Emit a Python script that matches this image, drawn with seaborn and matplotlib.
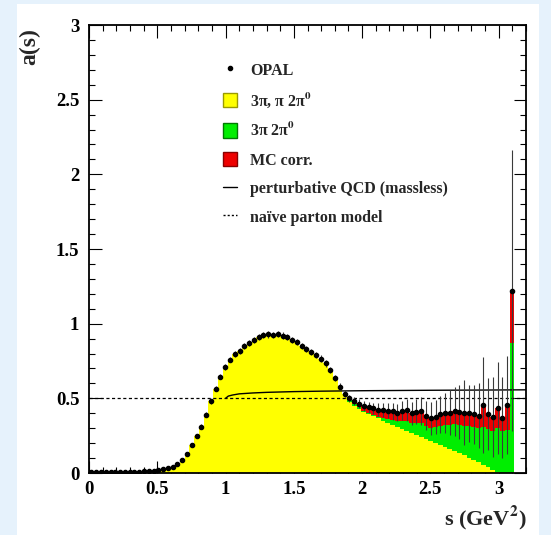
import numpy as np
import pandas as pd
import matplotlib
matplotlib.use("Agg")
import matplotlib.pyplot as plt
import seaborn as sns
from matplotlib.patches import Patch, Rectangle
from matplotlib.lines import Line2D
from matplotlib.ticker import MultipleLocator

# ---- spectral function a(s), OPAL tau data, bins of 0.035 GeV^2 ----
bin_width = 0.035
n_bins = 89
s_lo, s_hi = 0.0, round(bin_width * n_bins, 4)
s_centers = bin_width * (np.arange(n_bins) + 0.5)

a_opal = [
    0.004, 0.006, 0.007, 0.007, 0.007, 0.008, 0.008, 0.008, 0.009, 0.009,
    0.010, 0.011, 0.013, 0.015, 0.019, 0.024, 0.031, 0.042, 0.058, 0.085,
    0.130, 0.190, 0.250, 0.310, 0.390, 0.480, 0.565, 0.645, 0.710, 0.760,
    0.795, 0.820, 0.848, 0.868, 0.890, 0.910, 0.925, 0.928, 0.925, 0.932,
    0.920, 0.910, 0.893, 0.875, 0.852, 0.832, 0.808, 0.790, 0.765, 0.735,
    0.690, 0.635, 0.578, 0.530, 0.500, 0.480, 0.465, 0.450, 0.440, 0.432,
    0.425, 0.420, 0.418, 0.412, 0.405, 0.418, 0.422, 0.400, 0.410, 0.415,
    0.385, 0.365, 0.375, 0.392, 0.400, 0.405, 0.412, 0.410, 0.405, 0.400,
    0.392, 0.385, 0.455, 0.395, 0.375, 0.435, 0.370, 0.455, 1.220,
]
a_err = [
    0.004, 0.004, 0.004, 0.004, 0.004, 0.004, 0.004, 0.004, 0.004, 0.004,
    0.004, 0.004, 0.004, 0.005, 0.006, 0.006, 0.007, 0.008, 0.009, 0.010,
    0.012, 0.013, 0.014, 0.015, 0.016, 0.017, 0.018, 0.018, 0.019, 0.019,
    0.020, 0.020, 0.020, 0.020, 0.020, 0.020, 0.021, 0.021, 0.021, 0.021,
    0.021, 0.021, 0.021, 0.021, 0.021, 0.021, 0.021, 0.022, 0.022, 0.022,
    0.022, 0.022, 0.023, 0.024, 0.025, 0.027, 0.029, 0.032, 0.035, 0.038,
    0.042, 0.046, 0.050, 0.055, 0.060, 0.066, 0.072, 0.078, 0.085, 0.095,
    0.100, 0.110, 0.115, 0.125, 0.135, 0.150, 0.165, 0.180, 0.215, 0.190,
    0.200, 0.215, 0.320, 0.240, 0.265, 0.305, 0.270, 0.330, 0.940,
]
# upper edge of the 3pi, pi 2pi0 contribution
a_three_pi = [
    0.004, 0.006, 0.007, 0.007, 0.007, 0.008, 0.008, 0.008, 0.009, 0.009,
    0.010, 0.011, 0.013, 0.015, 0.019, 0.024, 0.031, 0.042, 0.058, 0.085,
    0.130, 0.190, 0.250, 0.310, 0.390, 0.480, 0.565, 0.645, 0.710, 0.760,
    0.795, 0.820, 0.848, 0.868, 0.890, 0.910, 0.925, 0.928, 0.925, 0.932,
    0.920, 0.910, 0.893, 0.875, 0.852, 0.832, 0.808, 0.790, 0.765, 0.735,
    0.690, 0.635, 0.578, 0.530, 0.475, 0.450, 0.430, 0.410, 0.395, 0.380,
    0.365, 0.350, 0.335, 0.320, 0.305, 0.292, 0.280, 0.268, 0.255, 0.243,
    0.230, 0.217, 0.203, 0.190, 0.176, 0.162, 0.148, 0.133, 0.118, 0.103,
    0.088, 0.072, 0.055, 0.040, 0.022, 0.008, 0.000, 0.000, 0.000,
]
# upper edge after adding the 3pi 2pi0 contribution
a_with_3pi2pi0 = [
    0.004, 0.006, 0.007, 0.007, 0.007, 0.008, 0.008, 0.008, 0.009, 0.009,
    0.010, 0.011, 0.013, 0.015, 0.019, 0.024, 0.031, 0.042, 0.058, 0.085,
    0.130, 0.190, 0.250, 0.310, 0.390, 0.480, 0.565, 0.645, 0.710, 0.760,
    0.795, 0.820, 0.848, 0.868, 0.890, 0.910, 0.925, 0.928, 0.925, 0.932,
    0.920, 0.910, 0.893, 0.875, 0.852, 0.832, 0.808, 0.790, 0.765, 0.735,
    0.690, 0.635, 0.578, 0.530, 0.490, 0.462, 0.440, 0.418, 0.402, 0.390,
    0.378, 0.368, 0.362, 0.355, 0.348, 0.350, 0.345, 0.335, 0.335, 0.332,
    0.315, 0.300, 0.305, 0.315, 0.320, 0.322, 0.325, 0.320, 0.318, 0.312,
    0.305, 0.300, 0.310, 0.295, 0.280, 0.300, 0.280, 0.290, 0.870,
]

# perturbative QCD (massless) and naive parton model
s_pqcd = [1.00, 1.02, 1.05, 1.10, 1.20, 1.30, 1.50, 1.70, 2.00, 2.50, 3.00, 3.20]
a_pqcd = [0.500, 0.515, 0.522, 0.530, 0.536, 0.540, 0.545, 0.548, 0.551, 0.554, 0.556, 0.557]
a_parton = 0.5

x_ticks = [0, 0.5, 1, 1.5, 2, 2.5, 3]
x_tick_labels = ["0", "0.5", "1", "1.5", "2", "2.5", "3"]
y_ticks = [0, 0.5, 1, 1.5, 2, 2.5, 3]
y_tick_labels = ["0", "0.5", "1", "1.5", "2", "2.5", "3"]

legend_labels = [
    "OPAL",
    "3π, π 2π$^{0}$",
    "3π 2π$^{0}$",
    "MC corr.",
    "perturbative QCD (massless)",
    "naïve parton model",
]

YELLOW = "#ffff00"
GREEN = "#00ee00"
RED = "#ee0000"

spec = pd.DataFrame({
    "s": s_centers,
    "opal": a_opal,
    "err": a_err,
    "three_pi": a_three_pi,
    "with_3pi2pi0": a_with_3pi2pi0,
})
pqcd = pd.DataFrame({"s": s_pqcd, "a": a_pqcd})

sns.set_theme(style="ticks")
plt.rcParams["font.family"] = ["Liberation Serif", "DejaVu Serif"]
plt.rcParams["font.weight"] = "bold"
plt.rcParams["mathtext.fontset"] = "stix"
plt.rcParams["mathtext.default"] = "bf"

fig = plt.figure(figsize=(5.51, 5.35), dpi=100)
fig.patch.set_facecolor("#e6f2fc")
fig.patches.append(Rectangle((17 / 551, 0.0), 522 / 551, 531 / 535,
                             transform=fig.transFigure, facecolor="white",
                             edgecolor="none", zorder=-10))
ax = fig.add_axes([89 / 551, 1 - 473 / 535, 437 / 551, 448 / 535])
ax.set_facecolor("white")

# stacked components drawn as filled step histograms, top layer first
for col_name, col in [("opal", RED), ("with_3pi2pi0", GREEN), ("three_pi", YELLOW)]:
    sns.histplot(data=spec, x="s", weights=col_name, binwidth=bin_width,
                 binrange=(s_lo, s_hi), element="step", fill=True,
                 color=col, alpha=1.0, linewidth=0, ax=ax)

ax.axhline(a_parton, color="black", lw=0.9, ls=(0, (2.5, 2)), zorder=4)
sns.lineplot(data=pqcd, x="s", y="a", color="black", lw=1.0, ax=ax, zorder=4)

ax.errorbar(spec["s"], spec["opal"], yerr=spec["err"], fmt="o", ms=3.0,
            color="black", ecolor="#3a3a3a", elinewidth=0.8, capsize=0,
            zorder=5)

ax.set_xlim(0, 3.2)
ax.set_ylim(0, 3)
ax.set_xlabel("")
ax.set_ylabel("")
ax.set_xticks(x_ticks)
ax.set_xticklabels(x_tick_labels)
ax.set_yticks(y_ticks)
ax.set_yticklabels(y_tick_labels)
ax.xaxis.set_minor_locator(MultipleLocator(0.1))
ax.yaxis.set_minor_locator(MultipleLocator(0.1))
ax.tick_params(which="both", direction="in", top=True, right=True,
               colors="black", width=0.8, labelsize=13.5)
ax.tick_params(which="major", length=9)
ax.tick_params(which="minor", length=4.5)
ax.tick_params(axis="x", pad=6)
ax.tick_params(axis="y", pad=7)
for sp in ax.spines.values():
    sp.set_linewidth(1.3)
    sp.set_color("black")

fig.text(30 / 551, 1 - 47 / 535, "a(s)", rotation=90, ha="center",
         va="center", fontsize=17, fontweight="bold")
fig.text(527 / 551, 1 - 518 / 535, "s (GeV$^{\\mathbf{2}}$)", ha="right",
         va="center", fontsize=16, fontweight="bold")

handles = [
    Line2D([], [], marker="o", ls="none", color="black", ms=3),
    Patch(facecolor=YELLOW, edgecolor="#9a9a00", lw=1.0),
    Patch(facecolor=GREEN, edgecolor="#007a00", lw=1.0),
    Patch(facecolor=RED, edgecolor="#880000", lw=1.0),
    Line2D([], [], color="black", lw=1.0),
    Line2D([], [], color="black", lw=1.0, ls=(0, (1.5, 1.5))),
]
ax.legend(handles, legend_labels, loc="upper left",
          bbox_to_anchor=(215 / 551, 1 - 54 / 535),
          bbox_transform=fig.transFigure, frameon=False, borderpad=0,
          handlelength=0.9, handleheight=1.0, handletextpad=0.8,
          labelspacing=0.75, prop={"family": "Liberation Serif",
                                   "weight": "bold", "size": 11.5})

fig.savefig("out.png", dpi=100, facecolor=fig.get_facecolor())
